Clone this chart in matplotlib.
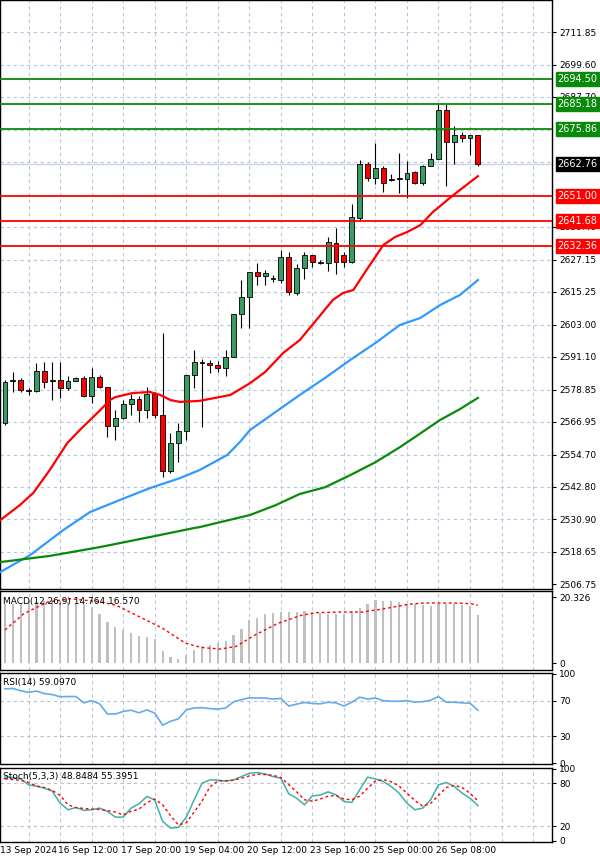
import numpy as np
import matplotlib.pyplot as plt

# candles (OHLC)
opens = [2566.6, 2582.0, 2582.5, 2578.8, 2578.5, 2585.9, 2582.0, 2582.5, 2579.6, 2582.2,
         2583.3, 2576.6, 2583.7, 2580.0, 2565.4, 2568.4, 2573.6, 2575.5, 2571.4, 2577.3,
         2569.5, 2548.7, 2559.1, 2563.6, 2584.4, 2589.2, 2589.0, 2588.1, 2587.0, 2591.1,
         2607.1, 2613.4, 2622.7, 2621.2, 2620.1, 2619.7, 2628.2, 2614.9, 2624.2, 2629.0,
         2626.2, 2626.0, 2633.5, 2629.0, 2626.4, 2642.7, 2662.8, 2657.6, 2661.3, 2657.2,
         2657.6, 2657.2, 2659.8, 2655.7, 2662.1, 2664.7, 2682.9, 2671.0, 2673.6, 2672.5, 2673.6]
highs = [2582.5, 2585.5, 2583.3, 2579.6, 2588.9, 2589.2, 2589.2, 2589.2, 2584.0, 2583.7,
         2584.0, 2587.0, 2584.4, 2580.0, 2571.4, 2575.1, 2577.3, 2576.6, 2580.0, 2578.1,
         2600.0, 2562.9, 2566.6, 2584.4, 2593.7, 2590.5, 2590.0, 2589.5, 2593.7, 2607.1,
         2619.7, 2622.7, 2626.0, 2623.5, 2621.5, 2631.0, 2630.0, 2625.5, 2630.0, 2628.5,
         2627.0, 2635.5, 2639.0, 2630.0, 2648.0, 2664.2, 2663.5, 2670.5, 2662.0, 2659.0,
         2667.0, 2664.0, 2660.2, 2662.5, 2666.8, 2685.5, 2685.0, 2677.0, 2674.8, 2673.6, 2673.6]
lows = [2565.8, 2578.1, 2578.1, 2577.0, 2578.1, 2579.6, 2575.1, 2575.9, 2578.8, 2582.0,
        2576.2, 2574.0, 2579.6, 2561.4, 2560.3, 2568.0, 2569.5, 2567.0, 2568.4, 2568.4,
        2546.5, 2548.0, 2552.0, 2560.3, 2579.6, 2565.0, 2585.0, 2585.5, 2584.0, 2591.1,
        2602.0, 2602.0, 2618.0, 2618.0, 2619.0, 2618.5, 2614.0, 2614.0, 2620.0, 2624.5,
        2625.5, 2623.0, 2622.0, 2624.5, 2626.0, 2642.0, 2656.5, 2655.5, 2652.5, 2656.5,
        2652.0, 2650.0, 2655.3, 2655.0, 2662.0, 2664.7, 2654.6, 2662.8, 2671.0, 2666.1, 2662.0]
closes = [2581.8, 2582.3, 2578.8, 2578.5, 2585.9, 2581.8, 2582.5, 2579.6, 2582.2, 2583.3,
          2576.6, 2583.7, 2580.0, 2565.4, 2568.4, 2573.6, 2575.5, 2571.4, 2577.3, 2569.5,
          2548.7, 2559.1, 2563.6, 2584.4, 2589.2, 2589.0, 2588.1, 2587.0, 2591.1, 2607.1,
          2613.4, 2622.7, 2621.2, 2622.3, 2620.1, 2628.2, 2615.2, 2624.2, 2629.0, 2626.4,
          2626.0, 2633.8, 2626.4, 2626.4, 2643.1, 2662.8, 2657.6, 2661.3, 2655.7, 2657.0,
          2657.2, 2659.5, 2655.7, 2662.1, 2664.7, 2682.9, 2671.0, 2673.6, 2672.5, 2673.6, 2662.76]

# moving averages (index, price)
ma_fast_idx = [-0.6, 1.9, 3.6, 5.7, 7.9, 9.5, 12.1, 13.3, 14.0, 16.2, 18.4, 19.7, 21.0, 22.2,
               24.7, 28.6, 31.1, 33.0, 35.3, 37.4, 39.3, 41.6, 42.9, 44.2, 45.7, 48.0, 49.5,
               51.0, 52.7, 54.3, 56.9, 60.0]
ma_fast_val = [2530.5, 2536.1, 2540.6, 2549.2, 2559.1, 2564.0, 2571.4, 2575.1, 2576.2, 2577.7,
               2578.1, 2577.0, 2575.1, 2574.4, 2574.8, 2577.0, 2581.4, 2585.5, 2592.6, 2597.4,
               2604.1, 2612.3, 2614.9, 2616.0, 2622.7, 2632.7, 2635.7, 2637.5, 2640.1, 2645.0,
               2651.3, 2658.3]
ma_mid_idx = [-0.6, 3.2, 7.4, 10.8, 14.6, 18.4, 22.2, 24.7, 28.2, 29.8, 31.1, 34.3, 37.4, 40.6,
              43.8, 47.0, 50.1, 52.7, 55.2, 57.7, 60.0]
ma_mid_val = [2511.2, 2517.5, 2526.8, 2533.5, 2538.0, 2542.4, 2546.1, 2549.1, 2554.7, 2559.5,
              2564.0, 2570.6, 2577.0, 2583.3, 2590.0, 2596.3, 2603.0, 2605.6, 2610.4, 2614.1,
              2619.7]
ma_slow_idx = [-0.6, 5.7, 12.1, 18.4, 23.9, 24.7, 31.1, 34.3, 37.4, 40.6, 43.8, 47.0, 50.1,
               52.7, 55.2, 57.7, 60.0]
ma_slow_val = [2514.9, 2517.2, 2520.5, 2524.2, 2527.5, 2527.9, 2532.4, 2536.0, 2540.2, 2542.7,
               2547.2, 2552.0, 2557.6, 2562.7, 2567.7, 2571.7, 2575.9]

green_levels = [2694.50, 2685.18, 2675.86]
red_levels = [2651.00, 2641.68, 2632.36]
last_price = 2662.76
price_ticks = [2711.85, 2699.60, 2687.70, 2639.40, 2627.15, 2615.25,
               2603.00, 2591.10, 2578.85, 2566.95, 2554.70, 2542.80, 2530.90, 2518.65, 2506.75]
grid_prices = [2723.75, 2711.85, 2699.60, 2687.70, 2675.45, 2663.55, 2651.30, 2639.40, 2627.15,
               2615.25, 2603.00, 2591.10, 2578.85, 2566.95, 2554.70, 2542.80, 2530.90, 2518.65]

macd_hist = [18.1, 18.3, 18.5, 18.7, 18.9, 19.1, 19.1, 19.1, 18.9, 18.5, 18.1, 17.3, 15.2, 12.7,
             11.2, 10.2, 9.1, 8.3, 7.9, 7.3, 3.6, 2.0, 1.3, 2.5, 4.1, 5.1, 5.6, 6.1, 6.8, 8.6,
             10.4, 13.2, 14.0, 15.2, 15.4, 15.6, 15.7, 15.7, 16.0, 15.6, 15.4, 15.2, 15.2, 15.2,
             16.0, 16.8, 18.3, 19.3, 19.1, 19.1, 18.8, 18.3, 18.1, 17.8, 17.5, 18.1, 18.3, 18.1,
             17.8, 17.5, 14.764]
macd_sig_idx = [0, 2.4, 5.4, 8.3, 12.2, 14.1, 17.1, 20.0, 22.9, 24.9, 27.3, 29.3, 31.7, 34.6,
                37.6, 39.5, 42.4, 45.4, 48.3, 51.2, 53.2, 57.1, 59.0, 60.0]
macd_sig_val = [10.2, 15.2, 18.8, 19.8, 18.8, 17.8, 14.2, 10.7, 6.1, 4.8, 4.3, 5.1, 8.6, 12.2,
                14.7, 15.5, 15.7, 15.7, 16.8, 18.1, 18.5, 18.5, 18.3, 17.8]

rsi = [83.2, 83.6, 81.1, 79.3, 80.7, 77.9, 76.8, 74.3, 74.6, 74.6, 67.5, 70.0, 66.4, 55.0, 55.0,
       57.9, 59.3, 56.4, 59.6, 56.1, 42.5, 46.8, 49.6, 59.6, 61.8, 62.1, 61.1, 60.4, 61.8, 68.6,
       71.1, 73.2, 72.9, 72.9, 71.8, 72.5, 63.9, 66.1, 67.9, 66.8, 66.4, 68.2, 67.5, 63.9, 68.2,
       73.9, 71.8, 72.9, 70.0, 69.3, 69.3, 70.0, 68.2, 68.9, 70.4, 74.6, 68.2, 68.2, 67.5, 67.1,
       59.1]

stoch_k = [88.8, 87.8, 86.0, 77.7, 75.8, 73.1, 68.9, 52.3, 43.1, 46.3, 42.2, 43.1, 45.4, 40.8,
           32.9, 32.9, 45.4, 51.4, 61.5, 56.9, 26.9, 17.7, 18.6, 32.9, 56.9, 80.0, 84.6, 84.2,
           82.8, 84.6, 89.2, 93.8, 94.8, 92.9, 89.2, 86.9, 65.2, 59.2, 50.0, 62.5, 63.4, 68.0,
           63.8, 54.6, 53.2, 70.8, 88.3, 86.0, 82.3, 75.4, 66.2, 52.3, 43.1, 45.4, 56.9, 77.7,
           80.9, 75.4, 66.2, 59.2, 48.85]
stoch_d = [86.0, 85.0, 84.0, 81.0, 76.0, 74.0, 70.0, 63.0, 50.0, 46.0, 45.0, 44.0, 43.5, 42.0,
           40.0, 36.0, 41.0, 44.0, 53.0, 58.0, 50.0, 35.0, 22.0, 25.0, 40.0, 55.0, 75.0, 83.0,
           83.5, 84.0, 87.0, 90.0, 92.5, 92.0, 91.0, 88.0, 78.0, 68.0, 57.0, 55.0, 58.0, 62.0,
           63.0, 58.0, 57.0, 62.0, 73.0, 83.0, 85.0, 82.0, 76.0, 66.0, 56.0, 48.0, 52.0, 63.0,
           74.0, 77.0, 74.0, 66.0, 55.4]

date_idx = [-1, 7, 15, 23, 31, 39, 47, 55]
date_labels = ["13 Sep 2024", "16 Sep 12:00", "17 Sep 20:00", "19 Sep 04:00",
               "20 Sep 12:00", "23 Sep 16:00", "25 Sep 00:00", "26 Sep 08:00"]

GRID = "#b8c8dc"
XLIM = (-0.63, 69.4)
FS = 6.5

fig = plt.figure(figsize=(6, 8.63), dpi=100)
ax = fig.add_axes([0, 0.3175, 0.92, 0.6825])
ax_macd = fig.add_axes([0, 0.2236, 0.92, 0.0915])
ax_rsi = fig.add_axes([0, 0.1147, 0.92, 0.1055])
ax_st = fig.add_axes([0, 0.0243, 0.92, 0.0857])

grid_x = np.arange(3, 70, 4)
for a in (ax, ax_macd, ax_rsi, ax_st):
    a.set_xlim(*XLIM)
    a.yaxis.tick_right()
    a.tick_params(axis="y", labelsize=FS, length=3, pad=2)
    a.set_xticks([])
    for gx in grid_x:
        a.axvline(gx, color=GRID, ls=(0, (3, 3)), lw=0.8, zorder=0)
    for s in a.spines.values():
        s.set_linewidth(1.0)

# main price panel
ax.set_ylim(2504.9, 2723.74)
ax.set_yticks(price_ticks)
ax.set_yticklabels(["%.2f" % t for t in price_ticks])
for t in grid_prices:
    ax.axhline(t, color=GRID, ls=(0, (3, 3)), lw=0.8, zorder=0)

x = np.arange(len(closes))
for i in x:
    o, h, l, c = opens[i], highs[i], lows[i], closes[i]
    ax.vlines(i, l, h, color="black", lw=0.8, zorder=2)
    col = "#3c9a63" if c >= o else "#ff0000"
    bot, top = min(o, c), max(o, c)
    ax.bar(i, max(top - bot, 0.4), bottom=bot, width=0.62, color=col,
           edgecolor="black", linewidth=0.6, zorder=3)

ax.plot(ma_fast_idx, ma_fast_val, color="#ff0000", lw=1.6, zorder=4)
ax.plot(ma_mid_idx, ma_mid_val, color="#3399ff", lw=1.6, zorder=4)
ax.plot(ma_slow_idx, ma_slow_val, color="#0a8a0a", lw=1.6, zorder=4)

ax.axhline(last_price, color="#c8d4e4", lw=1.0, zorder=1)
for lv in green_levels:
    ax.axhline(lv, color="#0a8a0a", lw=1.3, zorder=5)
for lv in red_levels:
    ax.axhline(lv, color="#ff0000", lw=1.3, zorder=5)

def level_box(a, y, fc):
    a.text(1.01, y, "%.2f" % y, transform=a.get_yaxis_transform(), fontsize=FS + 0.5,
           color="white", va="center", ha="left", clip_on=False, zorder=10,
           bbox=dict(boxstyle="square,pad=0.2", fc=fc, ec=fc))

for lv in green_levels:
    level_box(ax, lv, "#0a8a0a")
for lv in red_levels:
    level_box(ax, lv, "#ff0000")
level_box(ax, last_price, "black")

# MACD
ax_macd.set_ylim(-2.16, 22.17)
ax_macd.bar(x, macd_hist, width=0.28, color="#c0c0c0", zorder=2)
ax_macd.plot(macd_sig_idx, macd_sig_val, color="#ff0000", lw=1.0, ls=(0, (2, 2)), zorder=3)
ax_macd.set_yticks([0, 20.326])
ax_macd.set_yticklabels(["0", "20.326"])
ax_macd.text(0.005, 0.93, "MACD(12,26,9) 14.764 16.570", transform=ax_macd.transAxes,
             fontsize=FS, va="top")

# RSI
ax_rsi.set_ylim(-1, 101)
ax_rsi.plot(x, rsi, color="#66aaee", lw=1.2, zorder=3)
for lv in (70, 30):
    ax_rsi.axhline(lv, color="#c0c0c0", ls=(0, (3, 3)), lw=0.8, zorder=1)
ax_rsi.set_yticks([0, 30, 70, 100])
ax_rsi.text(0.005, 0.95, "RSI(14) 59.0970", transform=ax_rsi.transAxes, fontsize=FS, va="top")

# Stochastic
ax_st.set_ylim(-1.7, 101)
ax_st.plot(x, stoch_k, color="#40b0a8", lw=1.1, zorder=3)
ax_st.plot(x, stoch_d, color="#ff0000", lw=1.0, ls=(0, (2, 2)), zorder=4)
for lv in (80, 20):
    ax_st.axhline(lv, color="#c0c0c0", ls=(0, (3, 3)), lw=0.8, zorder=1)
ax_st.set_yticks([0, 20, 80, 100])
ax_st.text(0.005, 0.95, "Stoch(5,3,3) 48.8484 55.3951", transform=ax_st.transAxes,
           fontsize=FS, va="top")

for xi, lab in zip(date_idx, date_labels):
    ax_st.text(max(xi - 0.3, -0.6), -0.05, lab, transform=ax_st.get_xaxis_transform(),
               fontsize=FS, ha="left", va="top", clip_on=False)

fig.savefig("out.png", dpi=100)
